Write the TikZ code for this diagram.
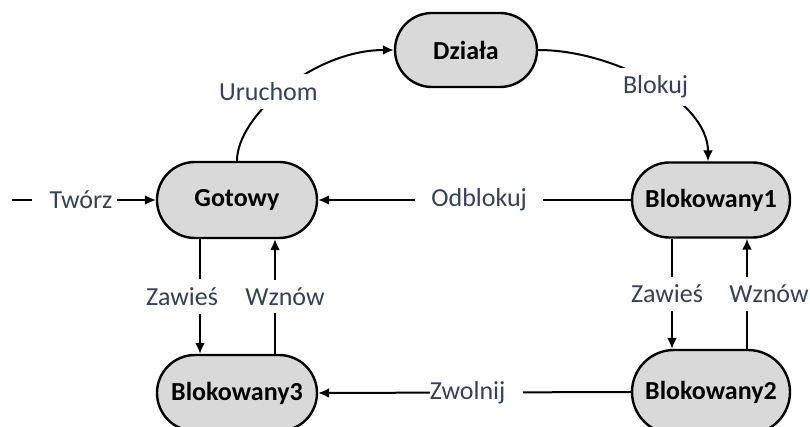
\documentclass[tikz,border=0pt]{standalone}
\usepackage{fontspec}
\setmainfont{Carlito}
\usetikzlibrary{arrows.meta}
\definecolor{nodefill}{RGB}{217,217,217}
\definecolor{lblcol}{RGB}{52,64,92}
\begin{document}
\begin{tikzpicture}[x=0.5pt,y=-0.5pt,
  state/.style={draw=black, line width=1.2pt, fill=nodefill, rounded corners=19pt,
    font=\fontsize{13}{15}\selectfont\bfseries, inner sep=0pt},
  conn/.style={line width=1pt, -{Latex[length=5.5pt,width=5pt]}},
  lbl/.style={fill=white, text=lblcol, font=\fontsize{13}{15}\selectfont,
    inner xsep=3pt, inner ysep=4pt}]
\path[use as bounding box, clip] (0,0) rectangle (810,427);

% states
\node[state, minimum width=71pt, minimum height=37pt, rounded corners=18.5pt] (Dziala) at (466,50) {Działa};
\node[state, minimum width=80pt, minimum height=38pt] (Gotowy) at (237,200) {Gotowy};
\node[state, minimum width=79pt, minimum height=37.5pt, rounded corners=18.7pt] (B1) at (711,200) {Blokowany1};
\node[state, minimum width=80pt, minimum height=38pt] (B3) at (237,393) {Blokowany3};
\node[state, minimum width=79pt, minimum height=42pt, rounded corners=21pt] (B2) at (711,392) {Blokowany2};

\coordinate (start) at (12,200);

% connectors
\draw[conn] (start) -- (Gotowy.west)
  node[lbl, pos=0.438, text width=37.5pt, align=right, inner xsep=2.5pt] {Twórz};
\draw[conn] (Gotowy.north) .. controls +(0,-45) and +(-80,0) .. (Dziala.west)
  node[lbl, pos=0.5, xshift=-8.5pt, yshift=-1.5pt] {Uruchom};
\draw[conn] (Dziala.east) .. controls +(76,0) and +(0,-60) .. ([xshift=-1.5pt]B1.north)
  node[lbl, pos=0.5, xshift=2pt, yshift=-2pt] {Blokuj};
\draw[conn] (B1.west) -- (Gotowy.east)
  node[lbl, pos=0.485, inner xsep=8pt] {Odblokuj};
\draw[conn] (B2.west) -- (B3.east)
  node[lbl, pos=0.494, text width=46.5pt, align=left, inner xsep=0pt] {Zwolnij};

\draw[conn] ([xshift=-18.5pt]Gotowy.south) -- ([xshift=-18.5pt]B3.north)
  node[lbl, pos=0.5, xshift=-9pt] {Zawieś};
\draw[conn] ([xshift=19pt]B3.north) -- ([xshift=19pt]Gotowy.south)
  node[lbl, pos=0.5, xshift=5pt] {Wznów};
\draw[conn] ([xshift=-19.5pt]B1.south) -- ([xshift=-19.5pt]B2.north)
  node[lbl, pos=0.5, xshift=-2.5pt] {Zawieś};
\draw[conn] ([xshift=18pt]B2.north) -- ([xshift=18pt]B1.south)
  node[lbl, pos=0.5, xshift=11pt] {Wznów};
\end{tikzpicture}
\end{document}
